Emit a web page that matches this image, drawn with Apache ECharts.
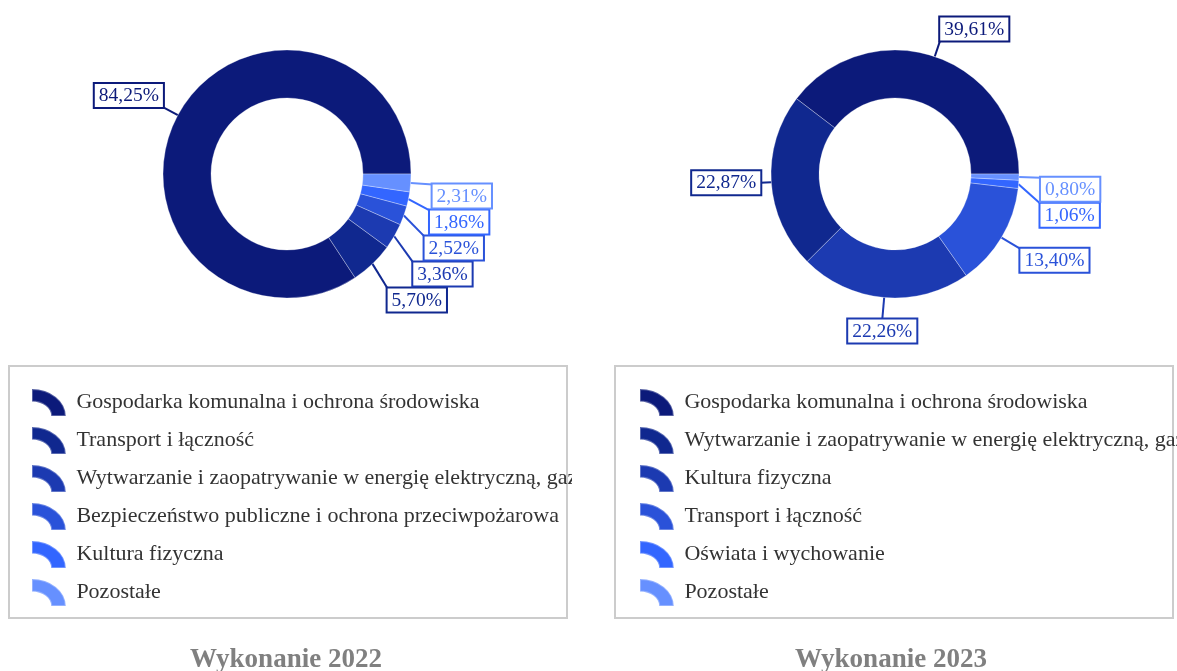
<!DOCTYPE html>
<html>
<head>
<meta charset="utf-8">
<script src="https://cdn.jsdelivr.net/npm/echarts@6/dist/echarts.min.js"></script>
<style>
  html, body { margin: 0; padding: 0; background: #fff; width: 1177px; height: 671px; overflow: hidden; }
  #c2022 { position: absolute; left: 0; top: 0; width: 572px; height: 671px; }
  #c2023 { position: absolute; left: 605px; top: 0; width: 572px; height: 671px; }
</style>
</head>
<body>
<div id="c2022"></div>
<div id="c2023"></div>
<script>
// Expenditure structure by budget section (percent of total)
const names2022 = [
  'Gospodarka komunalna i ochrona środowiska',
  'Transport i łączność',
  'Wytwarzanie i zaopatrywanie w energię elektryczną, gaz i wodę',
  'Bezpieczeństwo publiczne i ochrona przeciwpożarowa',
  'Kultura fizyczna',
  'Pozostałe'
];
const values2022 = [84.25, 5.70, 3.36, 2.52, 1.86, 2.31];

const names2023 = [
  'Gospodarka komunalna i ochrona środowiska',
  'Wytwarzanie i zaopatrywanie w energię elektryczną, gaz i wodę',
  'Kultura fizyczna',
  'Transport i łączność',
  'Oświata i wychowanie',
  'Pozostałe'
];
const values2023 = [39.61, 22.87, 22.26, 13.40, 1.06, 0.80];

const titles = ['Wykonanie 2022', 'Wykonanie 2023'];

// Shades of blue, darkest for the largest section
const palette = ['#0c1a7a', '#10288f', '#1c3ab1', '#2a52d9', '#3366ff', '#6690ff'];

const serif = '"Liberation Serif", "Times New Roman", "DejaVu Serif", serif';
const arcIcon = 'path://M0,0 A35,28 0 0 1 35,28 L20,28 A20,15 0 0 0 0,13 Z';

const PIE_CY = 174;
const R_INNER = 76;
const R_OUTER = 124;
const LABEL_H = 25;
const LABEL_PITCH = 26;
// leader length depending on which edge of the box meets the leader
const LEADER = { top: 22, bottom: 17, middle: 11 };

function fmt(v) {
  return v.toFixed(2).replace('.', ',') + '%';
}

// Place each value label at the end of a short radial leader; the box
// corner/edge facing the ring sits on the leader's end. Labels on one side
// that would collide are pushed downwards.
function planLabels(values, cx, cy) {
  const total = values.reduce((a, b) => a + b, 0);
  let acc = 0;
  const plans = values.map((v, i) => {
    const mid = (acc + v / 2) / total * 2 * Math.PI;
    acc += v;
    const c = Math.cos(mid), s = Math.sin(mid);
    const align = c > 0.25 ? 'left' : (c < -0.25 ? 'right' : 'center');
    let va;
    if (s > 0.15) va = 'bottom';
    else if (s < -0.15 || (s <= 0 && c > 0)) va = 'top';
    else va = 'middle';
    const len = LEADER[va];
    const ex = cx + R_OUTER * c, ey = cy - R_OUTER * s;
    const ax = cx + (R_OUTER + len) * c, ay = cy - (R_OUTER + len) * s;
    const off = va === 'top' ? 0 : (va === 'middle' ? LABEL_H / 2 : LABEL_H);
    return { i, ex, ey, ax, ay, align, va, off, top: ay - off, side: c >= 0 ? 1 : -1 };
  });
  [1, -1].forEach(side => {
    const group = plans.filter(p => p.side === side).sort((a, b) => a.top - b.top);
    for (let k = 1; k < group.length; k++) {
      const minTop = group[k - 1].top + LABEL_PITCH;
      if (group[k].top < minTop) group[k].top = minTop;
    }
  });
  const out = [];
  plans.forEach(p => {
    const y = p.top + p.off;
    out[p.i] = {
      x: p.ax,
      y: y,
      align: p.align,
      verticalAlign: p.va,
      labelLinePoints: [[p.ex, p.ey], [p.ax, y], [p.ax, y]]
    };
  });
  return out;
}

function buildOption(names, values, title, boxX, legendX, cx) {
  const data = names.map((n, i) => ({
    name: n,
    value: values[i],
    itemStyle: { color: palette[i] },
    label: { color: palette[i], borderColor: palette[i] }
  }));
  const plan = planLabels(values, cx, PIE_CY);
  return {
    animation: false,
    color: palette,
    title: {
      text: title,
      left: 'center',
      top: 642,
      textStyle: { fontFamily: serif, fontSize: 27, fontWeight: 'bold', color: '#808080' }
    },
    graphic: [{
      type: 'rect',
      shape: { x: boxX, y: 366, width: 558, height: 252 },
      style: { fill: 'none', stroke: '#cccccc', lineWidth: 2 },
      silent: true
    }],
    legend: {
      orient: 'vertical',
      left: legendX,
      top: 388,
      padding: 0,
      itemWidth: 35,
      itemHeight: 27,
      itemGap: 9,
      icon: arcIcon,
      data: names,
      textStyle: { fontFamily: serif, fontSize: 22, color: '#333', padding: [0, 0, 0, 5] }
    },
    series: [{
      type: 'pie',
      center: [cx, PIE_CY],
      radius: [R_INNER, R_OUTER],
      startAngle: 0,
      clockwise: false,
      avoidLabelOverlap: false,
      itemStyle: { borderColor: 'rgba(255,255,255,0.3)', borderWidth: 1 },
      label: {
        show: true,
        position: 'outside',
        formatter: p => fmt(p.value),
        fontFamily: serif,
        fontSize: 19.5,
        backgroundColor: '#fff',
        borderWidth: 2,
        padding: [2, 4, 1, 4]
      },
      labelLine: { show: true, length: 18, length2: 0, lineStyle: { width: 2 } },
      labelLayout: params => plan[params.dataIndex],
      emphasis: { disabled: true },
      data: data
    }]
  };
}

const chart1 = echarts.init(document.getElementById('c2022'), null, { renderer: 'canvas' });
chart1.setOption(buildOption(names2022, values2022, titles[0], 9, 31, 287));

const chart2 = echarts.init(document.getElementById('c2023'), null, { renderer: 'canvas' });
chart2.setOption(buildOption(names2023, values2023, titles[1], 10, 34, 290));
</script>
</body>
</html>
